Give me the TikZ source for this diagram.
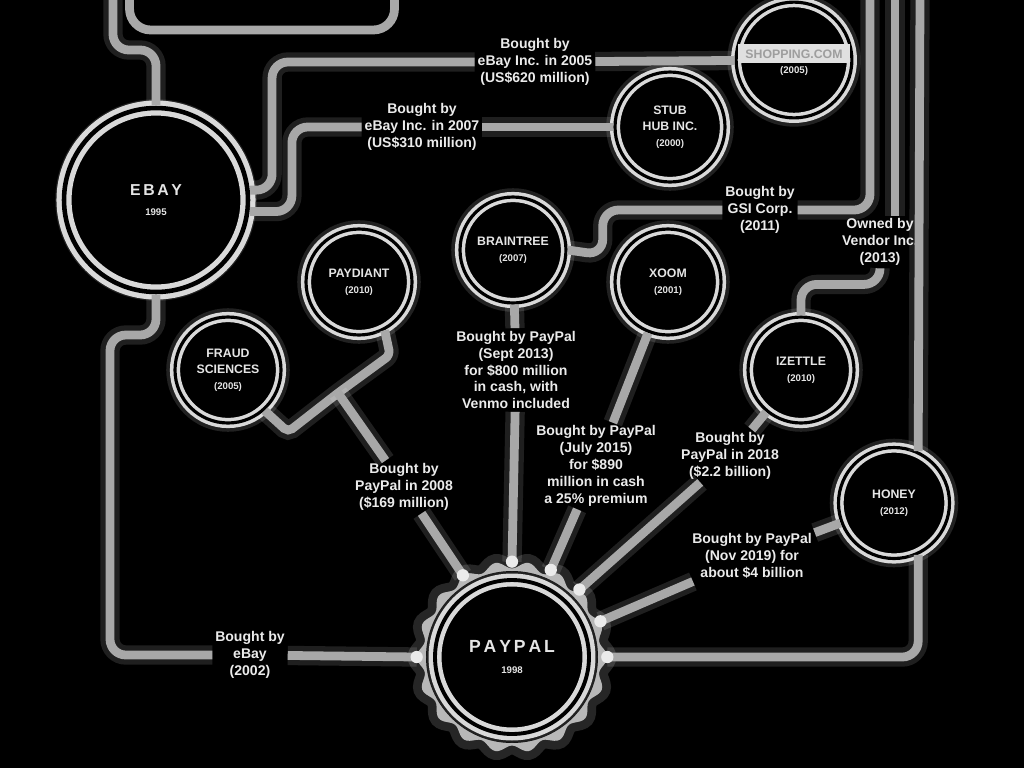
\documentclass[tikz,border=0pt]{standalone}
\usepackage{fontspec}
\setmainfont{Liberation Sans}
\usetikzlibrary{shapes.geometric, calc}

\tikzset{
  wire/.style={draw=white!66!black, line width=5pt, rounded corners=9pt,
    preaction={draw=white, opacity=.12, line width=11pt}},
  firm/.style={circle, draw=white!85!black, double=black, line width=2pt,
    double distance=1.8pt, fill=black, minimum size=2.12cm, inner sep=0pt,
    align=center, text=white!90!black,
    font=\bfseries\fontsize{7}{9}\selectfont,
    preaction={draw=white, opacity=.13, line width=10pt}},
  deal/.style={fill=black, align=center, text=white!92!black, inner sep=1.5pt,
    font=\bfseries\fontsize{8}{9.6}\selectfont},
}

\begin{document}
\begin{tikzpicture}[x=0.02cm, y=-0.02cm]
  \fill[black] (0,0) rectangle (1024,768);
  \useasboundingbox (0,0) rectangle (1024,768);

  % companies
  \node[firm, minimum size=3.68cm, line width=3pt, double distance=2.6pt,
        font=\bfseries\fontsize{9}{12}\selectfont] (ebay) at (156,200)
        {E\,B\,A\,Y\\[-1pt]{\fontsize{5.5}{7}\selectfont 1995}};
  \node[firm] (shopping) at (794,60)
        {\colorbox{white!88!black}{\textcolor{white!62!black}{\,SHOPPING.COM\,}}\\{\fontsize{5.5}{7}\selectfont(2005)}};
  \node[firm, minimum size=2.2cm] (stubhub) at (670,127) {STUB\\HUB INC.\\{\fontsize{5.5}{7}\selectfont(2000)}};
  \node[firm] (braintree) at (513,250) {BRAINTREE\\{\fontsize{5.5}{7}\selectfont(2007)}};
  \node[firm] (xoom) at (668,282) {XOOM\\{\fontsize{5.5}{7}\selectfont(2001)}};
  \node[firm] (paydiant) at (359,282) {PAYDIANT\\{\fontsize{5.5}{7}\selectfont(2010)}};
  \node[firm] (fraud) at (228,370) {FRAUD\\SCIENCES\\{\fontsize{5.5}{7}\selectfont(2005)}};
  \node[firm] (izettle) at (801,370) {IZETTLE\\{\fontsize{5.5}{7}\selectfont(2010)}};
  \node[firm, minimum size=2.22cm] (honey) at (894,503) {HONEY\\{\fontsize{5.5}{7}\selectfont(2012)}};

  % paypal with its toothed rim
  \fill[white!72!black, preaction={fill=white, opacity=.15, draw=white, line width=10pt},
        shift={(512,657)}]
    plot[domain=0:360, samples=217, smooth cycle, variable=\t] (\t:{92+3.5*cos(18*\t)});
  \fill[black] (512,657) circle[radius=1.72cm];
  \node[firm, minimum size=3.08cm, line width=2.6pt, double distance=2.2pt,
        font=\bfseries\fontsize{10}{13}\selectfont, preaction={draw=none}] (paypal) at (512,657)
        {P\,A\,Y\,P\,A\,L\\[-1pt]{\fontsize{5.5}{7}\selectfont 1998}};
  \node[circle, minimum size=3.8cm, inner sep=0pt] (rim) at (paypal) {};

  % top box, cut off
  \node[draw=white!66!black, line width=5pt, rounded corners=12pt,
        minimum width=5.3cm, minimum height=2.2cm] (feed) at (262,-25) {};

  % deal labels
  \node[deal] (lblA) at (535,62) {Bought by\\eBay Inc. in 2005\\(US\$620 million)};
  \node[deal] (lblB) at (422,127) {Bought by\\eBay Inc. in 2007\\(US\$310 million)};
  \node[deal] (lblC) at (760,210) {Bought by\\GSI Corp.\\(2011)};
  \node[deal] (lblD) at (880,242) {Owned by\\Vendor Inc.\\(2013)};
  \node[deal] (lblBT) at (516,370) {Bought by PayPal\\(Sept 2013)\\for \$800 million\\in cash, with\\Venmo included};
  \node[deal] (lblX) at (596,466) {Bought by PayPal\\(July 2015)\\for \$890\\million in cash\\a 25\% premium};
  \node[deal] (lblIZ) at (730,456) {Bought by\\PayPal in 2018\\(\$2.2 billion)};
  \node[deal] (lblH) at (752,556) {Bought by PayPal\\(Nov 2019) for\\about \$4 billion};
  \node[deal] (lblZ) at (404,487) {Bought by\\PayPal in 2008\\(\$169 million)};
  \node[deal] (lblpay) at (250,655) {Bought by\\eBay\\(2002)};

  % free ends above the picture
  \coordinate (topL) at (113,-5);
  \coordinate (topC) at (870,-5);
  \coordinate (topD) at (895,-5);
  \coordinate (topE) at (920,-5);
  \coordinate (fork) at (338,393);

  % connectors
  \draw[wire] (topL) -- (113,50) -- (156,50) -- (ebay.north);
  \draw[wire] (ebay.6) -- ++(22,0) |- (lblA);
  \draw[wire] (lblA) -- (shopping);
  \draw[wire] (ebay.-7) -- ++(42,0) |- (lblB);
  \draw[wire] (lblB) -- (stubhub);
  \draw[wire] (topC) |- (lblC);
  \draw[wire] (lblC) -| ($(braintree.east)+(35,5)$) -- (braintree.east);
  \draw[wire] (topD) -- (topD |- lblD.north);
  \draw[wire] (lblD.south) -- ++(0,16) -| (izettle.north);
  \draw[wire] (topE) -- (honey.65);
  \draw[wire] (honey.-65) |- (rim.0);
  \draw[wire] (ebay.south) -- (156,335) -- (110,335) |- (lblpay);
  \draw[wire] (lblpay) -- (rim.180);
  \draw[wire] (braintree) -- (lblBT);
  \draw[wire] (lblBT) -- (rim.90);
  \draw[wire] (xoom) -- (lblX);
  \draw[wire] (lblX) -- (rim.66);
  \draw[wire] (izettle) -- (lblIZ);
  \draw[wire] (lblIZ) -- (rim.45);
  \draw[wire] (honey) -- (lblH);
  \draw[wire] (lblH) -- (rim.22);
  \draw[wire, rounded corners=3pt] (fraud.-48) -- (288,432) -- (fork) -- (390,355) -- (paydiant.-62);
  \draw[wire] (fork) -- (lblZ);
  \draw[wire] (lblZ) -- (rim.121);

  % joints on the rim
  \foreach \a in {0,22,45,66,90,121,180}
    \fill[white!92!black] (rim.\a) circle[radius=3.5pt];
\end{tikzpicture}
\end{document}
